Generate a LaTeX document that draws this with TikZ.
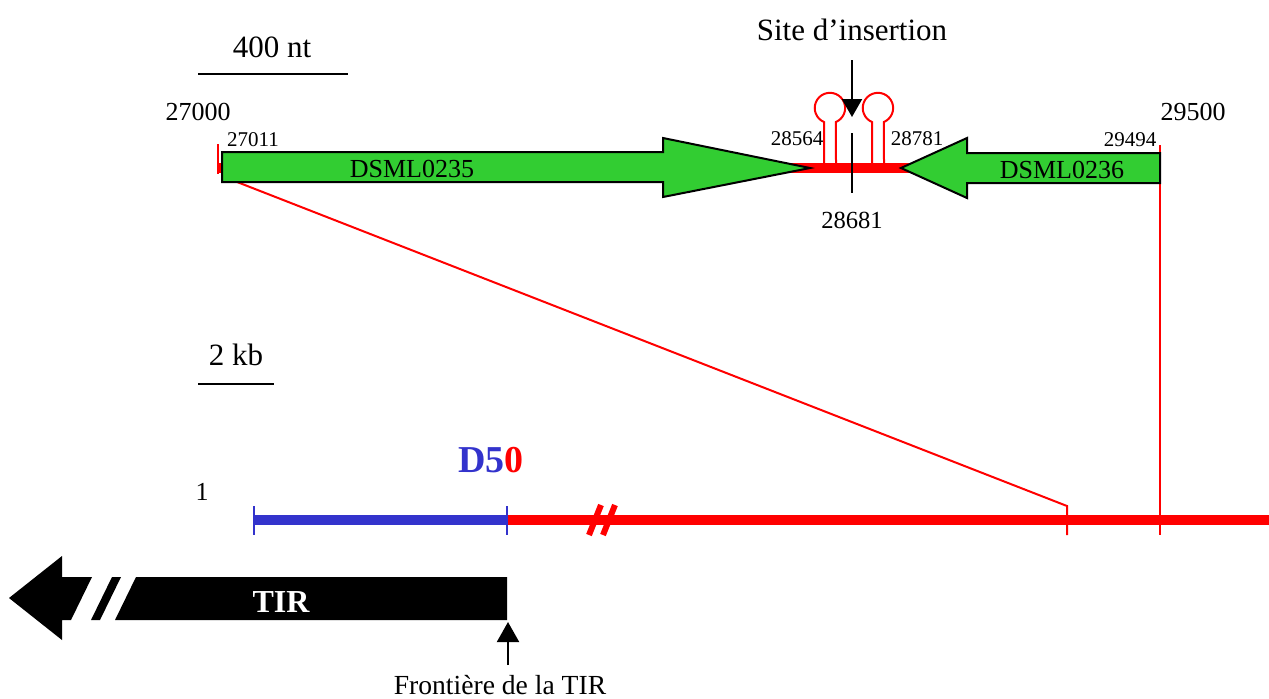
\documentclass[tikz,border=0pt]{standalone}
\usepackage{fontspec}
\setmainfont{Liberation Serif}
\usetikzlibrary{arrows.meta}
\definecolor{gfill}{RGB}{50,205,50}
\definecolor{dblue}{RGB}{51,51,204}
\begin{document}
\begin{tikzpicture}[x=0.5pt,y=-0.5pt,
  lbl/.style={inner sep=0pt,anchor=center},
  big/.style={lbl,font=\fontsize{15.5}{18}\selectfont},
  mid/.style={lbl,font=\fontsize{13}{15}\selectfont},
  poslabel/.style={lbl,font=\fontsize{12.3}{14}\selectfont},
  small/.style={lbl,font=\fontsize{10.5}{12}\selectfont},
  gene/.style={draw=black,line width=1pt,fill=gfill,line join=miter},
  thinred/.style={draw=red,line width=1pt},
  thickred/.style={draw=red,line width=5pt},
  thickblue/.style={draw=dblue,line width=5pt},
  bluetick/.style={draw=dblue,line width=1pt},
  blackline/.style={draw=black,line width=1pt}]
\useasboundingbox (0,0) rectangle (1269,698);

% scale bars
\node[big] (nt) at (272,47) {400 nt};
\coordinate (nt1) at (198,74); \coordinate (nt2) at (348,74);
\draw[blackline] (nt1) -- (nt2);
\node[big] (kb) at (236,355) {2 kb};
\coordinate (kb1) at (198,384); \coordinate (kb2) at (274,384);
\draw[blackline] (kb1) -- (kb2);

% top region
\coordinate (t0) at (218,168); \coordinate (t1) at (1160,168);
\draw[thickred] (t0) -- (t1);
\coordinate (tk0a) at (218,144); \coordinate (tk0b) at (218,174);
\draw[thinred] (tk0a) -- (tk0b);
\coordinate (zA) at (232,180); \coordinate (zB) at (1067,506); \coordinate (zC) at (1067,535);
\draw[thinred] (zA) -- (zB) -- (zC);
\coordinate (zD) at (1160,145); \coordinate (zE) at (1160,535);
\draw[thinred] (zD) -- (zE);

% genes
\path[gene] (222,152) -- (663,152) -- (663,138) -- (810,168) -- (663,197) -- (663,182) -- (222,182) -- cycle;
\node[mid] (g1) at (412,169) {DSML0235};
\path[gene] (1160,153) -- (967,153) -- (967,138) -- (901,168) -- (967,198) -- (967,183) -- (1160,183) -- cycle;
\node[mid] (g2) at (1062,170) {DSML0236};

% hairpins
\draw[thinred] (824,163) -- (824,122) arc[start angle=113,end angle=427,radius=15.2] -- (836,163);
\draw[thinred] (872,163) -- (872,122) arc[start angle=113,end angle=427,radius=15.2] -- (884,163);

% insertion site
\node[big] (site) at (852,30) {Site d’insertion};
\coordinate (s1) at (852,60); \coordinate (s2) at (852,117);
\draw[blackline,-{Triangle[width=10pt,length=9pt]}] (s1) -- (s2);
\coordinate (p1) at (852,133); \coordinate (p2) at (852,193);
\draw[blackline] (p1) -- (p2);

% labels
\node[mid] (l27000) at (198,112) {27000};
\node[small] (l27011) at (253,140) {27011};
\node[small] (l28564) at (797,139) {28564};
\node[small] (l28781) at (917,139) {28781};
\node[poslabel] (l28681) at (852,220) {28681};
\node[small] (l29494) at (1130,140) {29494};
\node[mid] (l29500) at (1193,112) {29500};

% bottom map
\coordinate (b0) at (254,520); \coordinate (b1) at (507,520); \coordinate (b2) at (1269,520);
\draw[thickred] (b1) -- (b2);
\draw[thickblue] (b0) -- (b1);
\draw[bluetick] (254,506) -- (254,535);
\draw[bluetick] (507,506) -- (507,535);
\draw[red,line width=3pt] (589,535) -- (601,505);
\draw[red,line width=3pt] (603,535) -- (615,505);
\node[lbl,font=\bfseries\fontsize{19}{22}\selectfont] (d50) at (491,460) {\textcolor{dblue}{D5}\textcolor{red}{0}};
\node[mid] (one) at (202,492) {1};

% TIR arrow
\fill[black] (9,598) -- (62,556) -- (62,577) -- (92,577) -- (71,620) -- (62,620) -- (62,640) -- cycle;
\fill[black] (112,577) -- (121,577) -- (100,620) -- (91,620) -- cycle;
\fill[black] (136,577) -- (507,577) -- (507,620) -- (115,620) -- cycle;
\node[lbl,text=white,font=\bfseries\fontsize{16}{18}\selectfont] (tir) at (281,602) {TIR};

\coordinate (f1) at (508,665); \coordinate (f2) at (508,622);
\draw[blackline,-{Triangle[width=11pt,length=10pt]}] (f1) -- (f2);
\node[lbl,font=\fontsize{13.8}{16}\selectfont] (front) at (500,685) {Frontière de la TIR};
\end{tikzpicture}
\end{document}
